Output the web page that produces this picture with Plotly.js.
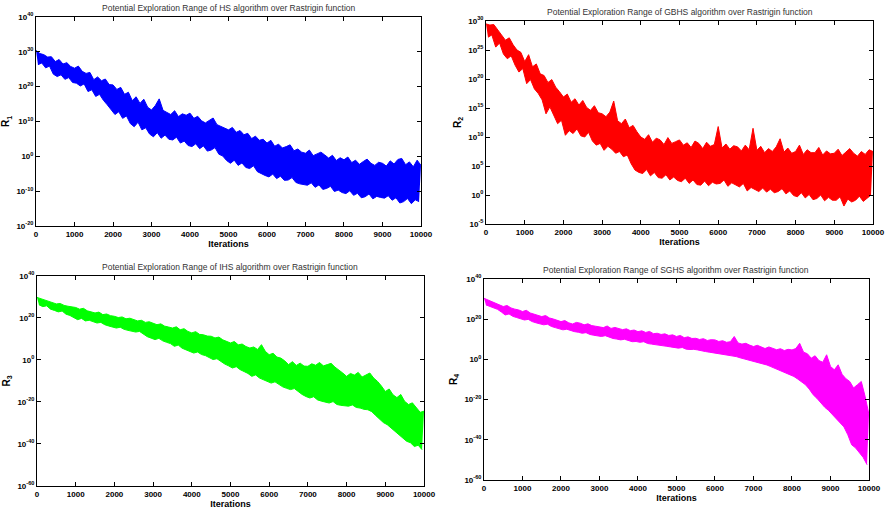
<!DOCTYPE html>
<html><head><meta charset="utf-8">
<script src="https://cdn.plot.ly/plotly-3.0.1.min.js"></script>
<style>html,body{margin:0;padding:0;background:#fff}#c{width:885px;height:509px}</style>
</head><body><div id="c"></div>
<script>
// Values are log10 of R: peaks at iterations 0,100,...,10000; troughs at 50,150,...,9950
const hsPeak = [30.4,29.5,29.2,28.5,28.6,27.2,27.8,26.5,26.9,25.8,
 25.3,25.9,24.4,23.8,24.1,22.0,22.8,21.7,22.2,20.6,
 20.5,19.2,19.8,17.8,18.4,16.0,17.1,15.2,16.4,14.1,
 13.3,14.6,16.5,13.2,12.6,12.0,13.1,11.4,12.2,11.8,
 12.4,10.9,11.5,10.2,9.6,10.4,11.0,9.1,8.6,8.2,
 7.6,8.3,6.9,7.4,6.2,6.6,5.1,5.8,4.6,4.9,
 3.8,4.6,2.9,3.5,2.4,2.8,3.3,1.6,2.1,1.2,
 0.9,1.8,0.2,0.7,1.2,0.4,-0.5,0.3,-1.2,-0.4,
 -1.0,-0.2,-1.8,-1.1,-2.3,-1.5,-0.8,-2.0,-2.6,-1.7,
 -2.0,-2.8,-1.3,-2.2,-0.9,-0.6,-2.4,-1.6,-3.0,-1.1,
 -2.6];
const hsTrough = [26.3,26.8,25.4,25.9,23.6,22.9,23.4,22.1,22.6,21.2,
 21.0,20.2,20.8,18.6,19.1,17.2,17.8,16.1,14.8,13.4,
 12.0,12.8,10.9,11.6,9.4,8.5,9.8,7.6,8.2,6.4,
 5.6,6.8,5.2,6.1,4.9,4.7,5.5,3.8,4.4,3.1,
 2.8,3.6,2.2,3.0,1.5,1.8,2.5,0.6,0.1,-1.2,
 -2.0,-1.1,-2.6,-1.9,-3.2,-3.5,-2.7,-4.4,-5.0,-5.5,
 -5.9,-5.1,-6.4,-5.7,-6.9,-6.8,-6.1,-7.5,-7.9,-8.0,
 -8.3,-7.6,-8.9,-8.2,-9.5,-9.2,-8.6,-10.1,-9.7,-10.4,
 -10.7,-9.9,-11.2,-10.6,-11.9,-11.6,-10.8,-12.2,-11.5,-11.8,
 -12.0,-11.3,-12.6,-11.9,-13.4,-13.0,-12.1,-13.6,-12.5,-13.0];

const gbhsPeak = [29.5,29.3,29.4,28.4,27.6,26.7,27.1,25.9,25.0,24.6,
 23.0,24.2,22.1,22.6,20.9,20.6,19.4,19.9,18.6,17.8,
 16.9,17.4,16.0,16.6,15.5,16.3,15.1,14.6,15.4,14.2,
 14.0,13.5,14.3,16.2,12.8,12.3,13.1,11.6,12.0,10.9,
 10.0,9.6,10.4,9.1,9.8,9.5,8.7,9.9,8.9,9.2,
 9.5,8.6,9.0,8.2,9.3,8.9,8.0,9.1,8.4,8.7,
 11.8,8.1,8.8,7.9,8.5,8.3,7.6,8.6,7.8,11.5,
 7.7,8.4,7.3,8.0,7.5,8.3,9.7,7.4,8.1,7.2,
 7.5,8.6,7.0,7.8,7.3,7.3,8.2,6.9,7.6,7.1,
 7.2,7.9,6.8,7.4,8.0,7.2,6.7,7.5,7.0,7.8,
 7.5];
const gbhsTrough = [27.2,27.6,25.5,26.2,24.3,23.5,24.0,22.4,21.2,21.8,
 19.2,19.9,18.3,17.5,16.4,14.0,15.2,13.6,12.3,12.9,
 10.3,11.1,10.6,11.4,10.2,10.0,10.8,9.3,8.6,8.9,
 7.7,8.4,7.9,7.2,7.5,6.6,6.9,5.4,4.3,3.9,
 3.7,4.4,3.3,3.9,3.0,2.9,3.5,2.6,3.1,2.5,
 2.3,2.9,2.0,2.6,1.8,1.7,2.4,1.6,2.2,1.9,
 2.0,2.6,1.5,2.1,1.7,1.4,2.0,0.7,1.3,0.9,
 0.6,1.2,0.5,1.0,0.4,0.6,1.1,0.2,0.7,-0.1,
 -0.3,0.4,-0.5,0.1,-0.8,-0.6,0.0,-1.0,-0.4,-0.9,
 -0.9,-0.3,-1.9,-0.7,-1.2,-0.9,-0.2,-1.1,-0.5,0.0];

const ihsPeak = [29.8,29.2,28.6,28.1,27.4,26.7,26.9,26.0,25.6,25.3,
 25.0,24.2,24.6,23.4,22.9,22.4,22.8,21.6,21.9,21.1,
 20.8,20.2,20.5,19.6,19.9,19.2,18.6,18.9,17.9,18.2,
 17.6,16.8,17.2,16.1,15.7,15.2,15.8,14.4,14.9,13.6,
 12.9,13.5,12.2,12.0,11.4,11.3,10.5,10.9,9.6,9.0,
 8.1,8.8,7.2,7.6,6.4,5.7,6.2,5.0,7.3,4.1,
 2.5,3.2,1.4,0.9,-0.4,-2.2,-0.8,-2.6,-1.5,-2.9,
 -3.0,-1.8,-2.5,-1.2,-2.8,-2.2,-1.6,-3.4,-4.6,-6.2,
 -7.8,-6.4,-7.2,-5.9,-8.1,-7.0,-6.2,-8.6,-10.2,-12.4,
 -15.0,-13.8,-16.6,-17.9,-16.4,-19.7,-21.2,-20.4,-22.6,-24.9,
 -24.4];
const ihsTrough = [26.3,25.4,25.8,24.2,23.6,22.9,23.3,21.8,21.2,20.1,
 19.2,19.8,18.6,18.9,18.1,17.6,17.9,16.8,16.2,15.6,
 15.2,15.6,14.6,14.1,13.8,13.3,13.6,12.2,11.1,10.4,
 9.7,10.3,9.1,8.4,7.8,6.5,7.1,5.6,4.9,3.9,
 3.3,3.8,2.6,2.1,1.0,0.2,0.6,-0.8,-1.9,-2.8,
 -3.8,-3.2,-4.6,-5.5,-6.4,-7.8,-7.1,-8.6,-9.4,-10.2,
 -11.0,-10.4,-11.6,-12.8,-13.5,-14.1,-13.6,-15.2,-16.4,-17.4,
 -18.1,-17.5,-19.0,-19.6,-20.2,-20.5,-19.8,-21.2,-21.6,-21.9,
 -22.0,-21.4,-22.6,-22.9,-23.5,-23.7,-24.6,-26.4,-28.0,-29.8,
 -30.8,-32.4,-34.0,-35.2,-37.0,-38.7,-39.4,-41.2,-40.6,-42.7];

const sghsPeak = [30.4,29.6,29.0,28.2,27.5,26.3,26.8,25.6,25.0,24.6,
 23.8,24.4,23.1,22.6,22.0,21.3,21.8,20.6,20.1,19.4,
 18.8,19.3,18.2,17.6,18.4,18.0,17.2,17.7,16.8,16.5,
 16.3,15.8,16.6,15.4,15.9,15.5,14.8,15.2,14.3,14.6,
 13.8,14.2,13.4,13.9,12.8,13.0,12.4,12.7,11.9,12.2,
 11.4,11.9,10.8,11.2,10.4,10.5,9.9,10.3,9.4,9.8,
 9.7,8.9,9.3,8.5,8.8,11.4,8.2,7.6,8.0,7.1,
 6.4,7.0,6.1,5.4,6.2,5.6,4.8,5.3,4.4,5.0,
 4.7,5.4,8.0,3.6,2.8,0.6,1.8,-0.6,-1.4,2.3,
 -3.5,-5.2,-2.7,-7.4,-9.6,-11.0,-14.2,-12.6,-11.0,-18.5,
 -27.5];
const sghsTrough = [27.1,26.4,25.8,24.9,23.6,22.1,22.6,21.4,20.8,20.2,
 19.6,19.9,18.8,18.2,17.6,17.2,17.5,16.4,15.8,15.1,
 14.7,15.0,14.2,13.8,13.5,13.0,13.3,12.4,12.0,11.7,
 11.4,11.8,10.9,10.4,10.1,9.7,10.0,9.2,8.8,8.9,
 8.5,8.8,7.9,7.6,7.4,7.2,6.8,6.5,6.2,5.9,
 5.6,5.9,5.1,4.9,5.0,4.7,4.2,3.9,3.6,3.3,
 3.1,2.8,2.4,2.2,1.9,1.4,0.8,0.3,-0.2,-0.6,
 -1.0,-1.6,-2.2,-2.8,-3.6,-4.4,-5.0,-5.8,-6.6,-7.5,
 -8.5,-9.8,-11.2,-12.6,-14.8,-17.6,-19.4,-21.6,-23.8,-25.4,
 -27.5,-29.6,-31.8,-33.6,-37.5,-42.5,-44.0,-46.2,-48.8,-52.4];

const titles = ['Potential Exploration Range of HS algorithm over Rastrigin function',
 'Potential Exploration Range of GBHS algorithm over Rastrigin function',
 'Potential Exploration Range of IHS algorithm over Rastrigin function',
 'Potential Exploration Range of SGHS algorithm over Rastrigin function'];
const yLabels = ['R<sub>1</sub>','R<sub>2</sub>','R<sub>3</sub>','R<sub>4</sub>'];
const colors = ['#0000ff','#ff0000','#00ff00','#ff00ff'];
const xTitle = 'Iterations';
const yTickExp = [[-20,-10,0,10,20,30,40],[-5,0,5,10,15,20,25,30],[-60,-40,-20,0,20,40],[-60,-40,-20,0,20,40]];
const xTicks = [0,1000,2000,3000,4000,5000,6000,7000,8000,9000,10000];

const sets=[[hsPeak,hsTrough],[gbhsPeak,gbhsTrough],[ihsPeak,ihsTrough],[sghsPeak,sghsTrough]];
const data = [];
sets.forEach((s,i)=>{
  const ax = i?'x'+(i+1):'x', ay = i?'y'+(i+1):'y';
  data.push({x:s[0].map((v,k)=>k*100), y:s[0].map(v=>Math.pow(10,v)), type:'scatter', mode:'lines',
    line:{color:colors[i],width:1}, xaxis:ax, yaxis:ay, hoverinfo:'skip', showlegend:false});
  data.push({x:s[1].map((v,k)=>k*100+50), y:s[1].map(v=>Math.pow(10,v)), type:'scatter', mode:'lines',
    line:{color:colors[i],width:1}, fill:'tonexty', fillcolor:colors[i], xaxis:ax, yaxis:ay, hoverinfo:'skip', showlegend:false});
});

const font = {family:'Liberation Sans, Arial, sans-serif', color:'#000'};
const doms = [
  {x:[0.0407,0.4757], y:[0.556,0.9666], yr:[-20,40]},
  {x:[0.5492,0.9864], y:[0.5599,0.9587], yr:[-5,30]},
  {x:[0.0418,0.4791], y:[0.0452,0.4578], yr:[-60,40]},
  {x:[0.5469,0.9819], y:[0.057,0.4519], yr:[-60,40]}
];
const layout = {width:885,height:509,margin:{l:0,r:0,t:0,b:0},paper_bgcolor:'#fff',plot_bgcolor:'#fff',
  font:font, showlegend:false, annotations:[]};
doms.forEach((d,i)=>{
  const sx = i?String(i+1):'';
  layout['xaxis'+sx] = {domain:d.x, anchor:'y'+sx, range:[0,10000], tickmode:'array', tickvals:xTicks, ticktext:xTicks.map(String),
    ticks:'inside', ticklen:4, tickcolor:'#000', showline:true, linecolor:'#000', linewidth:1, mirror:'ticks',
    showgrid:false, zeroline:false, tickfont:{size:8, weight:'bold', color:'#000'},
    title:{text:'<b>'+xTitle+'</b>', font:{size:9}, standoff:1}};
  layout['yaxis'+sx] = {domain:d.y, anchor:'x'+sx, type:'log', range:d.yr, tickmode:'array',
    tickvals:yTickExp[i].map(e=>Math.pow(10,e)), ticktext:yTickExp[i].map(e=>'10<sup>'+e+'</sup>'),
    ticks:'inside', ticklen:4, tickcolor:'#000', showline:true, linecolor:'#000', linewidth:1, mirror:'ticks',
    showgrid:false, zeroline:false, tickfont:{size:8, weight:'bold', color:'#000'},
    title:{text:'<b>'+yLabels[i]+'</b>', font:{size:10}, standoff:4}};
  layout.annotations.push({text:titles[i], xref:'paper', yref:'paper', x:(d.x[0]+d.x[1])/2, y:d.y[1],
    xanchor:'center', yanchor:'bottom', yshift:2, showarrow:false, font:{size:8.5, color:'#333'}});
});
Plotly.newPlot('c', data, layout, {staticPlot:true});
</script></body></html>
